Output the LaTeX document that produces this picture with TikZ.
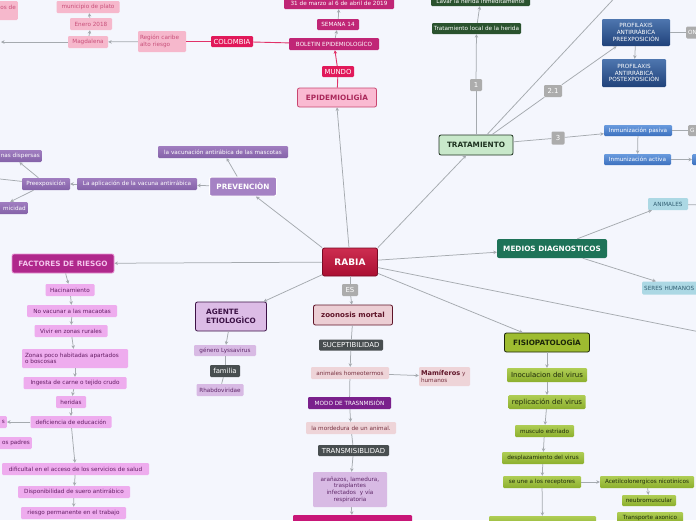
\documentclass[tikz,border=0pt]{standalone}
\usepackage{fontspec}
\setmainfont{DejaVu Sans}
\usetikzlibrary{arrows.meta}
\newcommand\smallfnt{\fontsize{5.7}{6.6}\selectfont}
\newcommand\midfnt{\fontsize{6.9}{7.8}\selectfont}
\newcommand\bigfnt{\fontsize{7.3}{8.6}\selectfont\bfseries}
\definecolor{bgC}{RGB}{244,246,253}
\definecolor{lineC}{RGB}{165,170,175}
\definecolor{pinkL}{RGB}{225,50,105}
\definecolor{rabiaT}{RGB}{205,45,80}
\definecolor{rabiaB}{RGB}{170,15,50}
\definecolor{rabiaD}{RGB}{120,10,35}
\definecolor{lblG}{RGB}{172,172,172}
\definecolor{darkG}{RGB}{72,78,80}
\definecolor{zooF}{RGB}{236,206,212}
\definecolor{zooD}{RGB}{95,20,40}
\definecolor{pinkSF}{RGB}{238,212,216}
\definecolor{pinkST}{RGB}{120,50,65}
\definecolor{modoF}{RGB}{122,32,140}
\definecolor{araF}{RGB}{216,186,228}
\definecolor{araT}{RGB}{95,40,105}
\definecolor{magB}{RGB}{200,22,120}
\definecolor{ageF}{RGB}{220,188,230}
\definecolor{ageD}{RGB}{60,18,70}
\definecolor{fisF}{RGB}{158,188,48}
\definecolor{fisD}{RGB}{28,38,10}
\definecolor{grnT}{RGB}{175,205,85}
\definecolor{grnB}{RGB}{140,175,45}
\definecolor{grnTx}{RGB}{30,42,10}
\definecolor{medF}{RGB}{30,115,88}
\definecolor{lbF}{RGB}{172,216,228}
\definecolor{lbT}{RGB}{50,95,115}
\definecolor{traF}{RGB}{200,232,202}
\definecolor{traD}{RGB}{30,50,32}
\definecolor{dgF}{RGB}{42,82,46}
\definecolor{proT}{RGB}{78,118,175}
\definecolor{proB}{RGB}{32,66,122}
\definecolor{inmT}{RGB}{105,155,222}
\definecolor{inmB}{RGB}{60,112,190}
\definecolor{epiF}{RGB}{250,186,210}
\definecolor{epiD}{RGB}{200,70,112}
\definecolor{epiT}{RGB}{170,40,90}
\definecolor{munF}{RGB}{225,25,90}
\definecolor{bolF}{RGB}{192,38,118}
\definecolor{regF}{RGB}{246,184,204}
\definecolor{regT}{RGB}{200,80,122}
\definecolor{preF}{RGB}{165,130,196}
\definecolor{pchT}{RGB}{160,125,192}
\definecolor{pchB}{RGB}{132,98,168}
\definecolor{facF}{RGB}{176,40,140}
\definecolor{facD}{RGB}{232,150,212}
\definecolor{facT}{RGB}{244,196,236}
\definecolor{fchF}{RGB}{238,172,238}
\definecolor{fchT}{RGB}{100,30,100}
\tikzset{
 sz/.style 2 args={minimum width=#1pt, minimum height=#2pt},
 box/.style={rounded corners=1.2pt, inner sep=0.8pt, font=\smallfnt, align=center},
 conn/.style={draw=lineC, line width=0.75pt},
 arr/.style={conn, -{Stealth[length=3.5pt,width=3.5pt]}},
 pconn/.style={draw=pinkL, line width=0.9pt},
 parr/.style={pconn, -{Stealth[length=3.5pt,width=3.5pt]}},
 lbl/.style={box, fill=lblG, text=white, font=\midfnt},
 dlbl/.style={box, fill=darkG, text=white, font=\midfnt},
 pinkS/.style={box, fill=pinkSF, text=pinkST},
 greenS/.style={box, top color=grnT, bottom color=grnB, text=grnTx},
 purpS/.style={box, top color=pchT, bottom color=pchB, text=white},
 facS/.style={box, fill=fchF, text=fchT},
 epiS/.style={box, fill=regF, text=regT},
 blueS/.style={box, top color=inmT, bottom color=inmB, text=white},
 proS/.style={box, top color=proT, bottom color=proB, text=white},
}
\begin{document}
\begin{tikzpicture}[x=1pt,y=-1pt]
\useasboundingbox (0,0) rectangle (696,520);
\fill[bgC] (0,0) rectangle (696,520);
% ---------- centre ----------
\node[box, top color=rabiaT, bottom color=rabiaB, draw=rabiaD, line width=0.8pt, rounded corners=2pt, text=white, font=\fontsize{9}{10}\selectfont\bfseries, sz={55}{28}] (rabia) at (350,262) {RABIA};
% ---------- epidemiologia ----------
\node[box, fill=epiF, draw=epiD, line width=0.8pt, rounded corners=2pt, text=epiT, font=\bigfnt, sz={79}{19}] (epi) at (337,97.5) {EPIDEMIOLIGÌA};
\node[box, fill=munF, text=white, font=\midfnt, sz={32}{11}] (mundo) at (338,71.5) {MUNDO};
\node[box, fill=bolF, text=white, sz={90}{12}] (boletin) at (334,44) {BOLETIN EPIDEMIOLOGÍCO};
\node[box, fill=bolF, text=white, sz={42}{11}] (semana) at (338,24.5) {SEMANA 14};
\node[box, fill=bolF, text=white, sz={110}{11}] (fecha) at (339,3.5) {31 de marzo al 6 de abril de 2019};
\node[box, fill=munF, text=white, font=\midfnt, sz={42}{11}] (colombia) at (232,41.5) {COLOMBIA};
\node[epiS, sz={48}{21}, text width=44pt, align=left] (region) at (162,41.5) {Región caribe\\alto riesgo};
\node[epiS, sz={40}{12}] (magdalena) at (88,42) {Magdalena};
\node[epiS, sz={42}{12}] (enero) at (91,24) {Enero 2018};
\node[epiS, sz={63}{12}] (municipio) at (88,7) {municipio de plato};
\node[epiS, sz={60}{19}, anchor=east, text width=56pt, align=right] (casos) at (18,10.5) {os de\\\mbox{}};
\coordinate (magleft) at (1,42);
\draw[arr] (rabia.north) ++(-1,0) -- (epi.south);
\draw[pconn] (epi) -- (mundo);
\draw[parr] (mundo) -- (boletin);
\draw[arr] (boletin) -- (semana);
\draw[arr] (semana) -- (fecha);
\draw[pconn] (boletin) -- (colombia);
\draw[pconn] (colombia) -- (region);
\draw[arr] (region) -- (magdalena);
\draw[arr] (magdalena) -- (enero);
\draw[arr] (enero) -- (municipio);
\draw[arr] (magdalena) -- (magleft);
% ---------- prevencion ----------
\node[box, fill=preF, draw=white, line width=1pt, rounded corners=2pt, text=white, font=\bigfnt, sz={67}{19}] (prev) at (243,186.5) {PREVENCIÒN};
\node[purpS, sz={130}{12}] (mascotas) at (223,152) {la vacunación antirábica de las mascotas};
\node[purpS, sz={120}{12}] (aplic) at (137,184) {La aplicación de la vacuna antirrábica};
\node[purpS, sz={48}{12}] (preexp) at (46,184) {Preexposición};
\node[purpS, sz={60}{12}, anchor=east, text width=56pt, align=right] (dispersas) at (42,156) {nas dispersas};
\node[purpS, sz={60}{12}, anchor=east, text width=56pt, align=right] (micidad) at (28,208) {micidad};
\coordinate (prevleft) at (0,179);
\draw[arr] (rabia.north west) -- (prev);
\draw[arr] (prev) -- (mascotas);
\draw[arr] (prev) -- (aplic);
\draw[arr] (aplic) -- (preexp);
\draw[arr] (preexp) -- (dispersas);
\draw[arr] (preexp) -- (micidad);
\draw[conn] (preexp) -- (prevleft);
% ---------- factores ----------
\node[box, fill=facF, draw=facD, line width=0.8pt, rounded corners=2pt, text=facT, font=\bigfnt, sz={102}{19}] (fact) at (63,263.5) {FACTORES DE RIESGO};
\node[facS, sz={49}{12}] (f1) at (70,290) {Hacinamiento};
\node[facS, sz={90}{12}] (f2) at (72,311) {No vacunar a las macaotas};
\node[facS, sz={73}{12}] (f3) at (71,331) {Vivir en zonas rurales};
\node[facS, sz={106}{19}, text width=100pt, align=left] (f4) at (75,358.5) {Zonas poco habitadas apartados\\o boscosas};
\node[facS, sz={103}{12}] (f5) at (75,383) {Ingesta de carne o tejido crudo};
\node[facS, sz={30}{12}] (f6) at (71,402) {heridas};
\node[facS, sz={81}{12}] (f7) at (71,422) {deficiencia de educación};
\node[facS, sz={40}{12}, anchor=east, text width=36pt, align=right] (fs) at (7,422) {s};
\node[facS, sz={50}{12}, anchor=east, text width=46pt, align=right] (fpad) at (32,443) {os padres};
\node[facS, sz={147}{12}] (f8) at (75.5,469) {dificultal en el acceso de los servicios de salud};
\node[facS, sz={112}{12}] (f9) at (74,492) {Disponibilidad de suero antirrábico};
\node[facS, sz={105}{12}] (f10) at (73.5,513) {riesgo permanente en el trabajo};
\draw[arr] (rabia) -- (fact);
\draw[arr] (fact) -- (f1);
\draw[arr] (f1) -- (f2);
\draw[arr] (f2) -- (f3);
\draw[arr] (f3) -- (f4);
\draw[arr] (f4) -- (f5);
\draw[arr] (f5) -- (f6);
\draw[arr] (f6) -- (f7);
\draw[arr] (f7) -- (fs);
\draw[arr] (f7) -- (f8);
\draw[arr] (f8) -- (f9);
\draw[arr] (f9) -- (f10);
% ---------- agente ----------
\node[box, fill=ageF, draw=ageD, line width=0.8pt, rounded corners=2pt, text=ageD, font=\bigfnt, sz={71}{29}, align=left] (agente) at (231,316.5) {AGENTE\\ETIOLOGÌCO};
\node[box, fill=araF, text=araT, sz={62}{11}] (genero) at (225,350.5) {género Lyssavirus};
\node[dlbl, sz={30}{12}] (familia) at (225,371) {familia};
\node[box, fill=araF, text=araT, sz={47}{12}] (rhabdo) at (220,390) {Rhabdoviridae};
\draw[arr] (rabia) -- (agente);
\draw[arr] (agente) -- (genero);
\draw[conn] (genero) -- (familia);
\draw[conn] (familia) -- (rhabdo);
% ---------- zoonosis ----------
\node[lbl, sz={16}{12}] (es) at (350,290) {ES};
\node[box, fill=zooF, draw=zooD, line width=0.8pt, rounded corners=2pt, text=zooD, font=\fontsize{7.1}{8}\selectfont\bfseries, sz={79}{20}] (zoon) at (353,315) {zoonosis mortal};
\node[dlbl, sz={64}{11}] (sucep) at (351,345) {SUCEPTIBILIDAD};
\node[pinkS, sz={78}{12}] (homeo) at (350,373) {animales homeotermos};
\node[pinkS, sz={51}{19}, text width=47pt, align=left] (mamif) at (444.5,376.5) {{\fontsize{6.6}{7.2}\selectfont\bfseries\color{zooD}Mamíferos} y\\humanos};
\node[box, fill=modoF, text=white, sz={83}{12}] (modo) at (349.5,403) {MODO DE TRASNMISIÒN};
\node[pinkS, sz={90}{12}] (morde) at (351,428) {la mordedura de un animal.};
\node[dlbl, sz={71}{11}] (transm) at (353.5,450.5) {TRANSMISIBLIDAD};
\node[box, fill=araF, text=araT, sz={74}{35}] (aran) at (350,489.5) {arañazos, lamedura,\\trasplantes\\infectados\ \ y vía\\respiratoria};
\node[box, fill=magB, sz={119}{14}] (magbot) at (352.5,522) {};
\draw[conn] (rabia) -- (es);
\draw[arr] (es) -- (zoon);
\draw[conn] (zoon) -- (sucep);
\draw[arr] (sucep) -- (homeo);
\draw[arr] (homeo) -- (mamif);
\draw[conn] (homeo) -- (modo);
\draw[arr] (modo) -- (morde);
\draw[conn] (morde) -- (transm);
\draw[arr] (transm) -- (aran);
\draw[arr] (aran) -- (magbot);
% ---------- tratamiento ----------
\node[box, fill=traF, draw=traD, line width=0.8pt, rounded corners=2pt, text=traD, font=\bigfnt, sz={74}{20}] (trat) at (476,145) {TRATAMIENTO};
\node[lbl, sz={12}{12}] (one) at (476,85) {1};
\node[box, fill=dgF, text=white, sz={89}{11}] (tlocal) at (476.5,28.5) {Tratamiento local de la herida};
\node[box, fill=dgF, text=white, sz={99}{10}] (lavar) at (480.5,1) {Lavar la herida inmeditamente};
\node[lbl, sz={18}{12}] (two) at (553,91) {2.1};
\node[proS, sz={68}{27}] (ppre) at (636,32.5) {PROFILAXIS\\ANTIRRÁBICA\\PREEXPOSICIÓN};
\node[proS, sz={64}{28}] (ppost) at (634,73) {PROFILAXIS\\ANTIRRÁBICA\\POSTEXPOSICIÒN};
\node[lbl, font=\smallfnt, sz={30}{12}, anchor=west, text width=26pt, align=left] (onbox) at (686,32.5) {ON};
\node[lbl, sz={13}{13}] (three) at (558,138) {3};
\node[blueS, sz={68}{11}] (pasiva) at (638,130.5) {Inmunización pasiva};
\node[blueS, sz={67}{11}] (activa) at (637.5,159.5) {Inmunización activa};
\node[lbl, font=\smallfnt, sz={30}{11}, anchor=west, text width=26pt, align=left] (gbox) at (688,130.5) {G};
\node[blueS, sz={30}{11}, anchor=west] (bbox) at (692,159.5) {};
\coordinate (trtop) at (622,-10);
\draw[arr] (rabia.north east) -- (trat);
\draw[conn] (trat.north) -- (one);
\draw[arr] (one) -- (tlocal);
\draw[arr] (tlocal) -- (lavar);
\draw[conn] ([xshift=11pt]trat.north) -- (trtop);
\draw[conn] ([xshift=16pt]trat.north) -- (two);
\draw[arr] (two) -- (ppre);
\draw[arr] (ppre) -- (ppost);
\draw[conn] (ppre) -- (onbox);
\draw[conn] (trat) -- (three);
\draw[arr] (three) -- (pasiva);
\draw[arr] (pasiva) -- (activa);
\draw[conn] (pasiva) -- (gbox);
\draw[arr] (activa) -- (bbox);
% ---------- medios ----------
\node[box, fill=medF, text=white, rounded corners=2pt, font=\bigfnt, sz={110}{19}] (medios) at (552,248.5) {MEDIOS DIAGNOSTICOS};
\node[box, fill=lbF, text=lbT, sz={40}{12}] (animales) at (668,204) {ANIMALES};
\node[box, fill=lbF, text=lbT, sz={70}{13}, anchor=west, text width=66pt, align=left] (humanos) at (642,288) {SERES HUMANOS};
\coordinate (animright) at (700,205);
\draw[arr] (rabia) -- (medios);
\draw[arr] (medios) -- (animales);
\draw[arr] (medios) -- (humanos);
\draw[conn] (animales) -- (animright);
% ---------- fisiopatologia ----------
\node[box, fill=fisF, draw=fisD, line width=0.8pt, rounded corners=2pt, text=fisD, font=\bigfnt, sz={85}{19}] (fisio) at (547,342.5) {FISIOPATOLOGÌA};
\node[greenS, font=\fontsize{7}{8}\selectfont, sz={80}{14}] (g1) at (547,375) {Inoculacion del virus};
\node[greenS, font=\fontsize{7}{8}\selectfont, sz={77}{14}] (g2) at (547,402) {replicación del virus};
\node[greenS, sz={59}{12}] (g3) at (544.5,431) {musculo estriado};
\node[greenS, sz={82}{12}] (g4) at (543,458) {desplazamiento del virus};
\node[greenS, sz={78}{12}] (g5) at (542,482) {se une a los receptores};
\node[greenS, sz={94}{12}] (g6) at (647,482) {Acetilcolonergicos nicotinicos};
\node[greenS, sz={54}{11}] (g7) at (649,500.5) {neubromuscular};
\node[greenS, sz={66}{11}] (g8) at (650,517.5) {Transporte axonico};
\node[greenS, sz={107}{12}] (g9) at (542.5,522) {};
\coordinate (rabright) at (700,332);
\draw[arr] (rabia) -- (fisio);
\draw[conn] (rabia) -- (rabright);
\draw[arr] (fisio) -- (g1);
\draw[arr] (g1) -- (g2);
\draw[arr] (g2) -- (g3);
\draw[arr] (g3) -- (g4);
\draw[arr] (g4) -- (g5);
\draw[arr] (g5) -- (g6);
\draw[arr] (g6) -- (g7);
\draw[arr] (g5) -- (g9);
\end{tikzpicture}
\end{document}
